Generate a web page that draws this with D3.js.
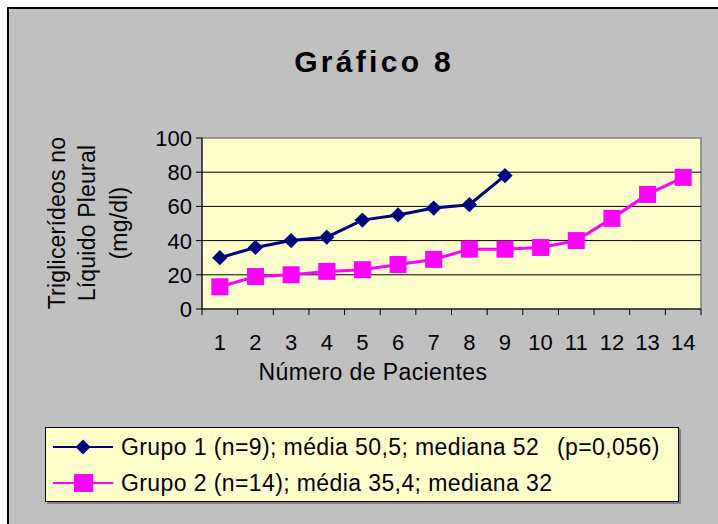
<!DOCTYPE html>
<html>
<head>
<meta charset="utf-8">
<script src="https://cdn.jsdelivr.net/npm/d3@7"></script>
<style>
  body { margin: 0; background: #fff; }
  text { font-family: "Liberation Sans", Arial, sans-serif; fill: #000; }
</style>
</head>
<body>
<div id="chart"></div>
<script>
// chart values
var categories = [1, 2, 3, 4, 5, 6, 7, 8, 9, 10, 11, 12, 13, 14];
var grupo1 = [30, 36, 40, 42, 52, 55, 59, 61, 78];
var grupo2 = [13, 19, 20, 22, 23, 26, 29, 35, 35, 36, 40, 53, 67, 77];
var yTicks = [0, 20, 40, 60, 80, 100];
var legendLabels = [
    "Grupo 1 (n=9); média 50,5; mediana 52",
    "Grupo 2 (n=14); média 35,4; mediana 32"
];
var pLabel = "(p=0,056)";

var width = 718, height = 524;
var plotLeft = 202, plotRight = 701, plotTop = 138, plotBottom = 309;

var svg = d3.select("#chart").append("svg")
    .attr("width", width)
    .attr("height", height);

// outer frame
svg.append("rect")
    .attr("x", 8).attr("y", 8)
    .attr("width", 760).attr("height", 560)
    .attr("fill", "#c0c0c0")
    .attr("stroke", "#000")
    .attr("stroke-width", 2);

svg.append("text")
    .attr("x", 374).attr("y", 72)
    .attr("text-anchor", "middle")
    .style("font-size", "30px")
    .style("font-weight", "bold")
    .style("letter-spacing", "3.3px")
    .text("Gráfico 8");

var x = d3.scaleBand()
    .domain(categories)
    .range([plotLeft, plotRight]);

var y = d3.scaleLinear()
    .domain([0, 100])
    .range([plotBottom, plotTop]);

// plot area
svg.append("rect")
    .attr("x", plotLeft).attr("y", plotTop)
    .attr("width", plotRight - plotLeft)
    .attr("height", plotBottom - plotTop)
    .attr("fill", "#ffffcc")
    .attr("stroke", "#808080")
    .attr("stroke-width", 1.5);

svg.append("g").selectAll("line")
    .data(yTicks.filter(function(d) { return d > 0 && d < 100; }))
    .enter().append("line")
    .attr("x1", plotLeft).attr("x2", plotRight)
    .attr("y1", function(d) { return y(d); })
    .attr("y2", function(d) { return y(d); })
    .attr("stroke", "#000")
    .attr("stroke-width", 1);

// y axis
var yAxis = svg.append("g");
yAxis.append("line")
    .attr("x1", plotLeft).attr("x2", plotLeft)
    .attr("y1", plotTop).attr("y2", plotBottom)
    .attr("stroke", "#000");
yAxis.selectAll(".ytick")
    .data(yTicks)
    .enter().append("line")
    .attr("x1", plotLeft - 6).attr("x2", plotLeft)
    .attr("y1", function(d) { return y(d); })
    .attr("y2", function(d) { return y(d); })
    .attr("stroke", "#000");
yAxis.selectAll("text")
    .data(yTicks)
    .enter().append("text")
    .attr("x", 192)
    .attr("y", function(d) { return y(d); })
    .attr("dy", "0.36em")
    .attr("text-anchor", "end")
    .style("font-size", "22px")
    .text(function(d) { return d; });

// x axis
var xAxis = svg.append("g");
xAxis.append("line")
    .attr("x1", plotLeft).attr("x2", plotRight)
    .attr("y1", plotBottom).attr("y2", plotBottom)
    .attr("stroke", "#000");
var bounds = categories.map(function(d) { return x(d); }).concat([x(categories[categories.length - 1]) + x.bandwidth()]);
xAxis.selectAll(".xtick")
    .data(bounds)
    .enter().append("line")
    .attr("x1", function(d) { return d; })
    .attr("x2", function(d) { return d; })
    .attr("y1", plotBottom).attr("y2", plotBottom + 6)
    .attr("stroke", "#000");
xAxis.selectAll("text")
    .data(categories)
    .enter().append("text")
    .attr("x", function(d) { return x(d) + x.bandwidth() / 2; })
    .attr("y", 350)
    .attr("text-anchor", "middle")
    .style("font-size", "22px")
    .text(function(d) { return d; });

svg.append("text")
    .attr("x", 373).attr("y", 380)
    .attr("text-anchor", "middle")
    .style("font-size", "23px")
    .style("letter-spacing", "0.4px")
    .text("Número de Pacientes");

// y title, three lines
var yTitle = ["Triglicerídeos no", "Líquido Pleural", "(mg/dl)"];
var yTitleX = [57, 87, 119];
svg.append("g").selectAll("text")
    .data(yTitle)
    .enter().append("text")
    .attr("transform", function(d, i) { return "translate(" + yTitleX[i] + ",223) rotate(-90)"; })
    .attr("dy", "0.36em")
    .attr("text-anchor", "middle")
    .style("font-size", "23px")
    .style("letter-spacing", "0.2px")
    .text(function(d) { return d; });

// series
var cx = function(d, i) { return x(categories[i]) + x.bandwidth() / 2; };
var line = d3.line()
    .x(cx)
    .y(function(d) { return y(d); });

var diamond = d3.symbol().type(d3.symbolDiamond2).size(150);

svg.append("path")
    .datum(grupo2)
    .attr("d", line)
    .attr("fill", "none")
    .attr("stroke", "#ff00ff")
    .attr("stroke-width", 3);

svg.append("g").selectAll("rect")
    .data(grupo2)
    .enter().append("rect")
    .attr("x", function(d, i) { return cx(d, i) - 8.5; })
    .attr("y", function(d) { return y(d) - 8.5; })
    .attr("width", 17).attr("height", 17)
    .attr("fill", "#ff00ff");

svg.append("path")
    .datum(grupo1)
    .attr("d", line)
    .attr("fill", "none")
    .attr("stroke", "#000080")
    .attr("stroke-width", 3);

svg.append("g").selectAll("path")
    .data(grupo1)
    .enter().append("path")
    .attr("transform", function(d, i) { return "translate(" + cx(d, i) + "," + y(d) + ")"; })
    .attr("d", diamond)
    .attr("fill", "#000080");

// legend
var legend = svg.append("g");
legend.append("rect")
    .attr("x", 47).attr("y", 429)
    .attr("width", 634).attr("height", 75)
    .attr("fill", "#808080");
legend.append("rect")
    .attr("x", 45.5).attr("y", 427.5)
    .attr("width", 633).attr("height", 74)
    .attr("fill", "#ffffcc")
    .attr("stroke", "#000")
    .attr("stroke-width", 1);

var legendColors = ["#000080", "#ff00ff"];
var legendY = [447, 483];
var items = legend.selectAll(".ledgends")
    .data(legendLabels)
    .enter().append("g")
    .attr("transform", function(d, i) { return "translate(0," + legendY[i] + ")"; });

items.append("line")
    .attr("x1", 53).attr("x2", 113)
    .attr("y1", 0).attr("y2", 0)
    .attr("stroke", function(d, i) { return legendColors[i]; })
    .attr("stroke-width", 2);

items.filter(function(d, i) { return i == 0; })
    .append("path")
    .attr("transform", "translate(83,0)")
    .attr("d", d3.symbol().type(d3.symbolDiamond2).size(140))
    .attr("fill", "#000080");

items.filter(function(d, i) { return i == 1; })
    .append("rect")
    .attr("x", 74).attr("y", -9)
    .attr("width", 19).attr("height", 18)
    .attr("fill", "#ff00ff");

items.append("text")
    .attr("x", 121)
    .attr("dy", "0.36em")
    .style("font-size", "23px")
    .style("letter-spacing", "0.4px")
    .text(function(d) { return d; });

legend.append("text")
    .attr("x", 557).attr("y", legendY[0])
    .attr("dy", "0.36em")
    .style("font-size", "23px")
    .style("letter-spacing", "0.4px")
    .text(pLabel);
</script>
</body>
</html>
